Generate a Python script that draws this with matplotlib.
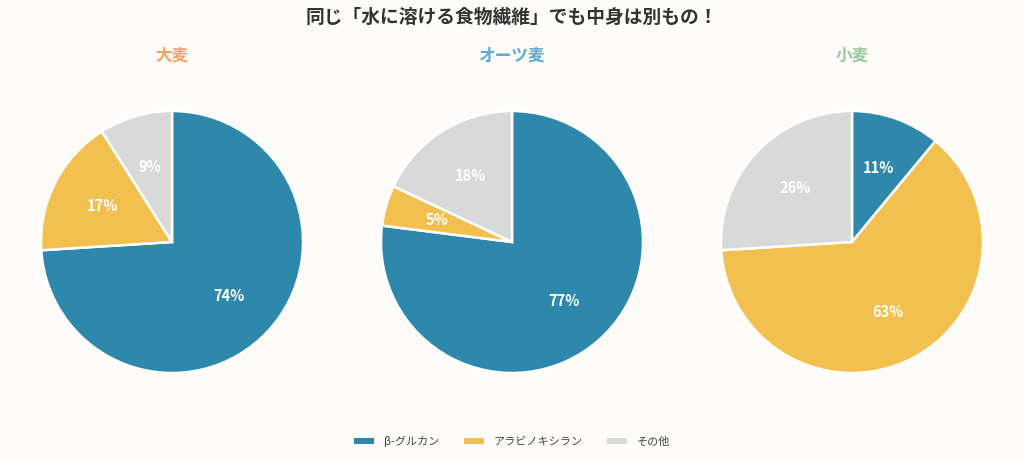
import matplotlib
matplotlib.use("Agg")
import matplotlib.pyplot as plt
from matplotlib.patches import Patch

plt.rcParams['font.family'] = ['Noto Sans CJK JP', 'DejaVu Sans']

title = "同じ「水に溶ける食物繊維」でも中身は別もの！"
components = ["β-グルカン", "アラビノキシラン", "その他"]
colors = ["#2e88ab", "#f2c04f", "#d9d9d9"]
grains = ["大麦", "オーツ麦", "小麦"]
grain_colors = ["#f4a261", "#5aaad6", "#98c8a2"]
barley = [74, 17, 9]
oats = [77, 5, 18]
wheat = [11, 63, 26]
values = [barley, oats, wheat]

bg = "#fdfcf8"
fig = plt.figure(figsize=(10.24, 4.61), dpi=100, facecolor=bg)

W, H = 1024, 461
centers_x = [172, 512, 852]
cy = 242
r = 131
for i, (name, vals) in enumerate(zip(grains, values)):
    cx = centers_x[i]
    ax = fig.add_axes([(cx - r) / W, (H - cy - r) / H, 2 * r / W, 2 * r / H])
    ax.set_facecolor(bg)
    wedges, texts, autotexts = ax.pie(
        vals, colors=colors, startangle=90, counterclock=False,
        radius=1, autopct=lambda p: f"{p:.0f}%", pctdistance=0.6,
        wedgeprops=dict(edgecolor="white", linewidth=1.8),
        textprops=dict(color="white", fontsize=10.5, fontweight="bold"))
    ax.set_xlim(-1.0, 1.0)
    ax.set_ylim(-1.0, 1.0)
    ax.set_aspect("auto")
    ax.axis("off")
    fig.text(cx / W, 1 - 56 / H, name, ha="center", va="center",
             fontsize=12, fontweight="bold", color=grain_colors[i])

fig.text(0.5, 1 - 17 / H, title, ha="center", va="center",
         fontsize=13.5, fontweight="bold", color="#333333")

handles = [Patch(facecolor=c, edgecolor="none") for c in colors]
leg = fig.legend(handles, components, loc="center", bbox_to_anchor=(0.5, 1 - 441 / H),
                 ncol=3, frameon=False, fontsize=8, handlelength=1.8,
                 handleheight=0.45, handletextpad=0.9, columnspacing=2.2)
for t in leg.get_texts():
    t.set_color("#444444")

fig.savefig("out.png", dpi=100, facecolor=bg)
